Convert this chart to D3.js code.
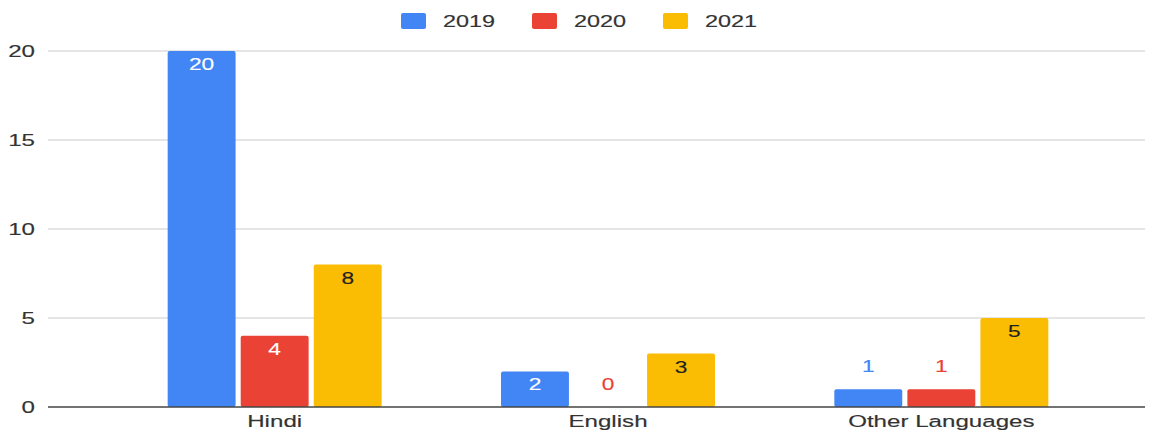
<!DOCTYPE html>
<meta charset='utf-8'>
<style>
    body { margin: 0; background: #fff; }
    text { font-family: 'Liberation Sans', Arial, sans-serif; stroke-width: 0.15px; }
</style>
<body>
<script src='https://d3js.org/d3.v7.min.js'></script>
<script>
    // Data
    const categories = [ 'Hindi', 'English', 'Other Languages' ];
    const seriesNames = [ '2019', '2020', '2021' ];
    const values2019 = [ 20, 2, 1 ];
    const values2020 = [ 4, 0, 1 ];
    const values2021 = [ 8, 3, 5 ];
    const yTicks = [ 0, 5, 10, 15, 20 ];

    const colors = { '2019': '#4285f4', '2020': '#ea4335', '2021': '#fbbc04' };
    const insideText = { '2019': '#fff', '2020': '#fff', '2021': '#222' };
    const sx = 1.42; // glyphs in the picture are stretched wide

    const W = 1159, H = 433;
    const plotLeft = 48, plotRight = 1145, plotTop = 51, plotBottom = 407;

    const svg = d3.select( 'body' ).append( 'svg' )
        .attr( 'width', W ).attr( 'height', H );

    const rows = categories.map( ( c, i ) => ( {
        cat: c,
        values: [
            { name: '2019', value: values2019[ i ] },
            { name: '2020', value: values2020[ i ] },
            { name: '2021', value: values2021[ i ] }
        ]
    } ) );

    // Scales
    const x = d3.scaleBand().domain( categories ).range( [ 108, 1108 ] );
    const xInner = d3.scaleBand().domain( seriesNames )
        .range( [ -107, 107 ] ).paddingInner( 0.07 );
    const y = d3.scaleLinear().domain( [ 0, 20 ] ).range( [ plotBottom, plotTop ] );

    // Grid
    svg.append( 'g' ).selectAll( 'line' )
        .data( yTicks.filter( t => t > 0 ) )
        .enter().append( 'line' )
            .attr( 'x1', plotLeft ).attr( 'x2', plotRight )
            .attr( 'y1', d => y( d ) ).attr( 'y2', d => y( d ) )
            .attr( 'stroke', '#dcdcdc' ).attr( 'stroke-width', 1.5 );

    // Y labels
    svg.append( 'g' ).selectAll( 'text' )
        .data( yTicks )
        .enter().append( 'text' )
            .attr( 'transform', d => `translate( 35, ${ y( d ) + 6 } ) scale( ${sx}, 1 )` )
            .attr( 'text-anchor', 'end' )
            .attr( 'font-size', 17 )
            .attr( 'fill', '#333' ).attr( 'stroke', '#333' )
            .text( d => d );

    // Bars
    const groups = svg.selectAll( '.grp' )
        .data( rows )
        .enter().append( 'g' )
            .attr( 'class', 'grp' )
            .attr( 'transform', d => `translate( ${ x( d.cat ) + x.bandwidth() / 2 }, 0 )` );

    groups.selectAll( 'rect' )
        .data( d => d.values.filter( v => v.value > 0 ) )
        .enter().append( 'rect' )
            .attr( 'x', d => xInner( d.name ) )
            .attr( 'y', d => y( d.value ) )
            .attr( 'width', xInner.bandwidth() )
            .attr( 'height', d => plotBottom - y( d.value ) )
            .attr( 'rx', 2 )
            .attr( 'fill', d => colors[ d.name ] );

    const labelColor = d => ( plotBottom - y( d.value ) ) >= 30 ? insideText[ d.name ] : colors[ d.name ];

    groups.selectAll( '.lbl' )
        .data( d => d.values )
        .enter().append( 'text' )
            .attr( 'class', 'lbl' )
            .attr( 'transform', d => {
                const h = plotBottom - y( d.value );
                const cy = h >= 30 ? y( d.value ) + 19 : y( d.value ) - 17;
                return `translate( ${ xInner( d.name ) + xInner.bandwidth() / 2 }, ${cy} ) scale( ${sx}, 1 )`;
            } )
            .attr( 'text-anchor', 'middle' )
            .attr( 'font-size', 16 )
            .attr( 'fill', labelColor ).attr( 'stroke', labelColor )
            .text( d => d.value );

    // Baseline
    svg.append( 'line' )
        .attr( 'x1', plotLeft ).attr( 'x2', plotRight )
        .attr( 'y1', plotBottom ).attr( 'y2', plotBottom )
        .attr( 'stroke', '#444' ).attr( 'stroke-width', 1.5 );

    // Category labels
    svg.append( 'g' ).selectAll( 'text' )
        .data( categories )
        .enter().append( 'text' )
            .attr( 'transform', d => `translate( ${ x( d ) + x.bandwidth() / 2 }, 427 ) scale( ${sx}, 1 )` )
            .attr( 'text-anchor', 'middle' )
            .attr( 'font-size', 17 )
            .attr( 'fill', '#333' ).attr( 'stroke', '#333' )
            .text( d => d );

    // Legend
    const legendX = [ 401, 532, 663 ];
    const legend = svg.append( 'g' ).selectAll( 'g' )
        .data( seriesNames )
        .enter().append( 'g' )
            .attr( 'transform', ( d, i ) => `translate( ${ legendX[ i ] }, 13 )` );

    legend.append( 'rect' )
        .attr( 'width', 25 ).attr( 'height', 16 ).attr( 'rx', 2 )
        .attr( 'fill', d => colors[ d ] );

    legend.append( 'text' )
        .attr( 'transform', `translate( 42, 14 ) scale( ${sx}, 1 )` )
        .attr( 'font-size', 16.5 )
        .attr( 'fill', '#333' ).attr( 'stroke', '#333' )
        .text( d => d );
</script>
</body>
